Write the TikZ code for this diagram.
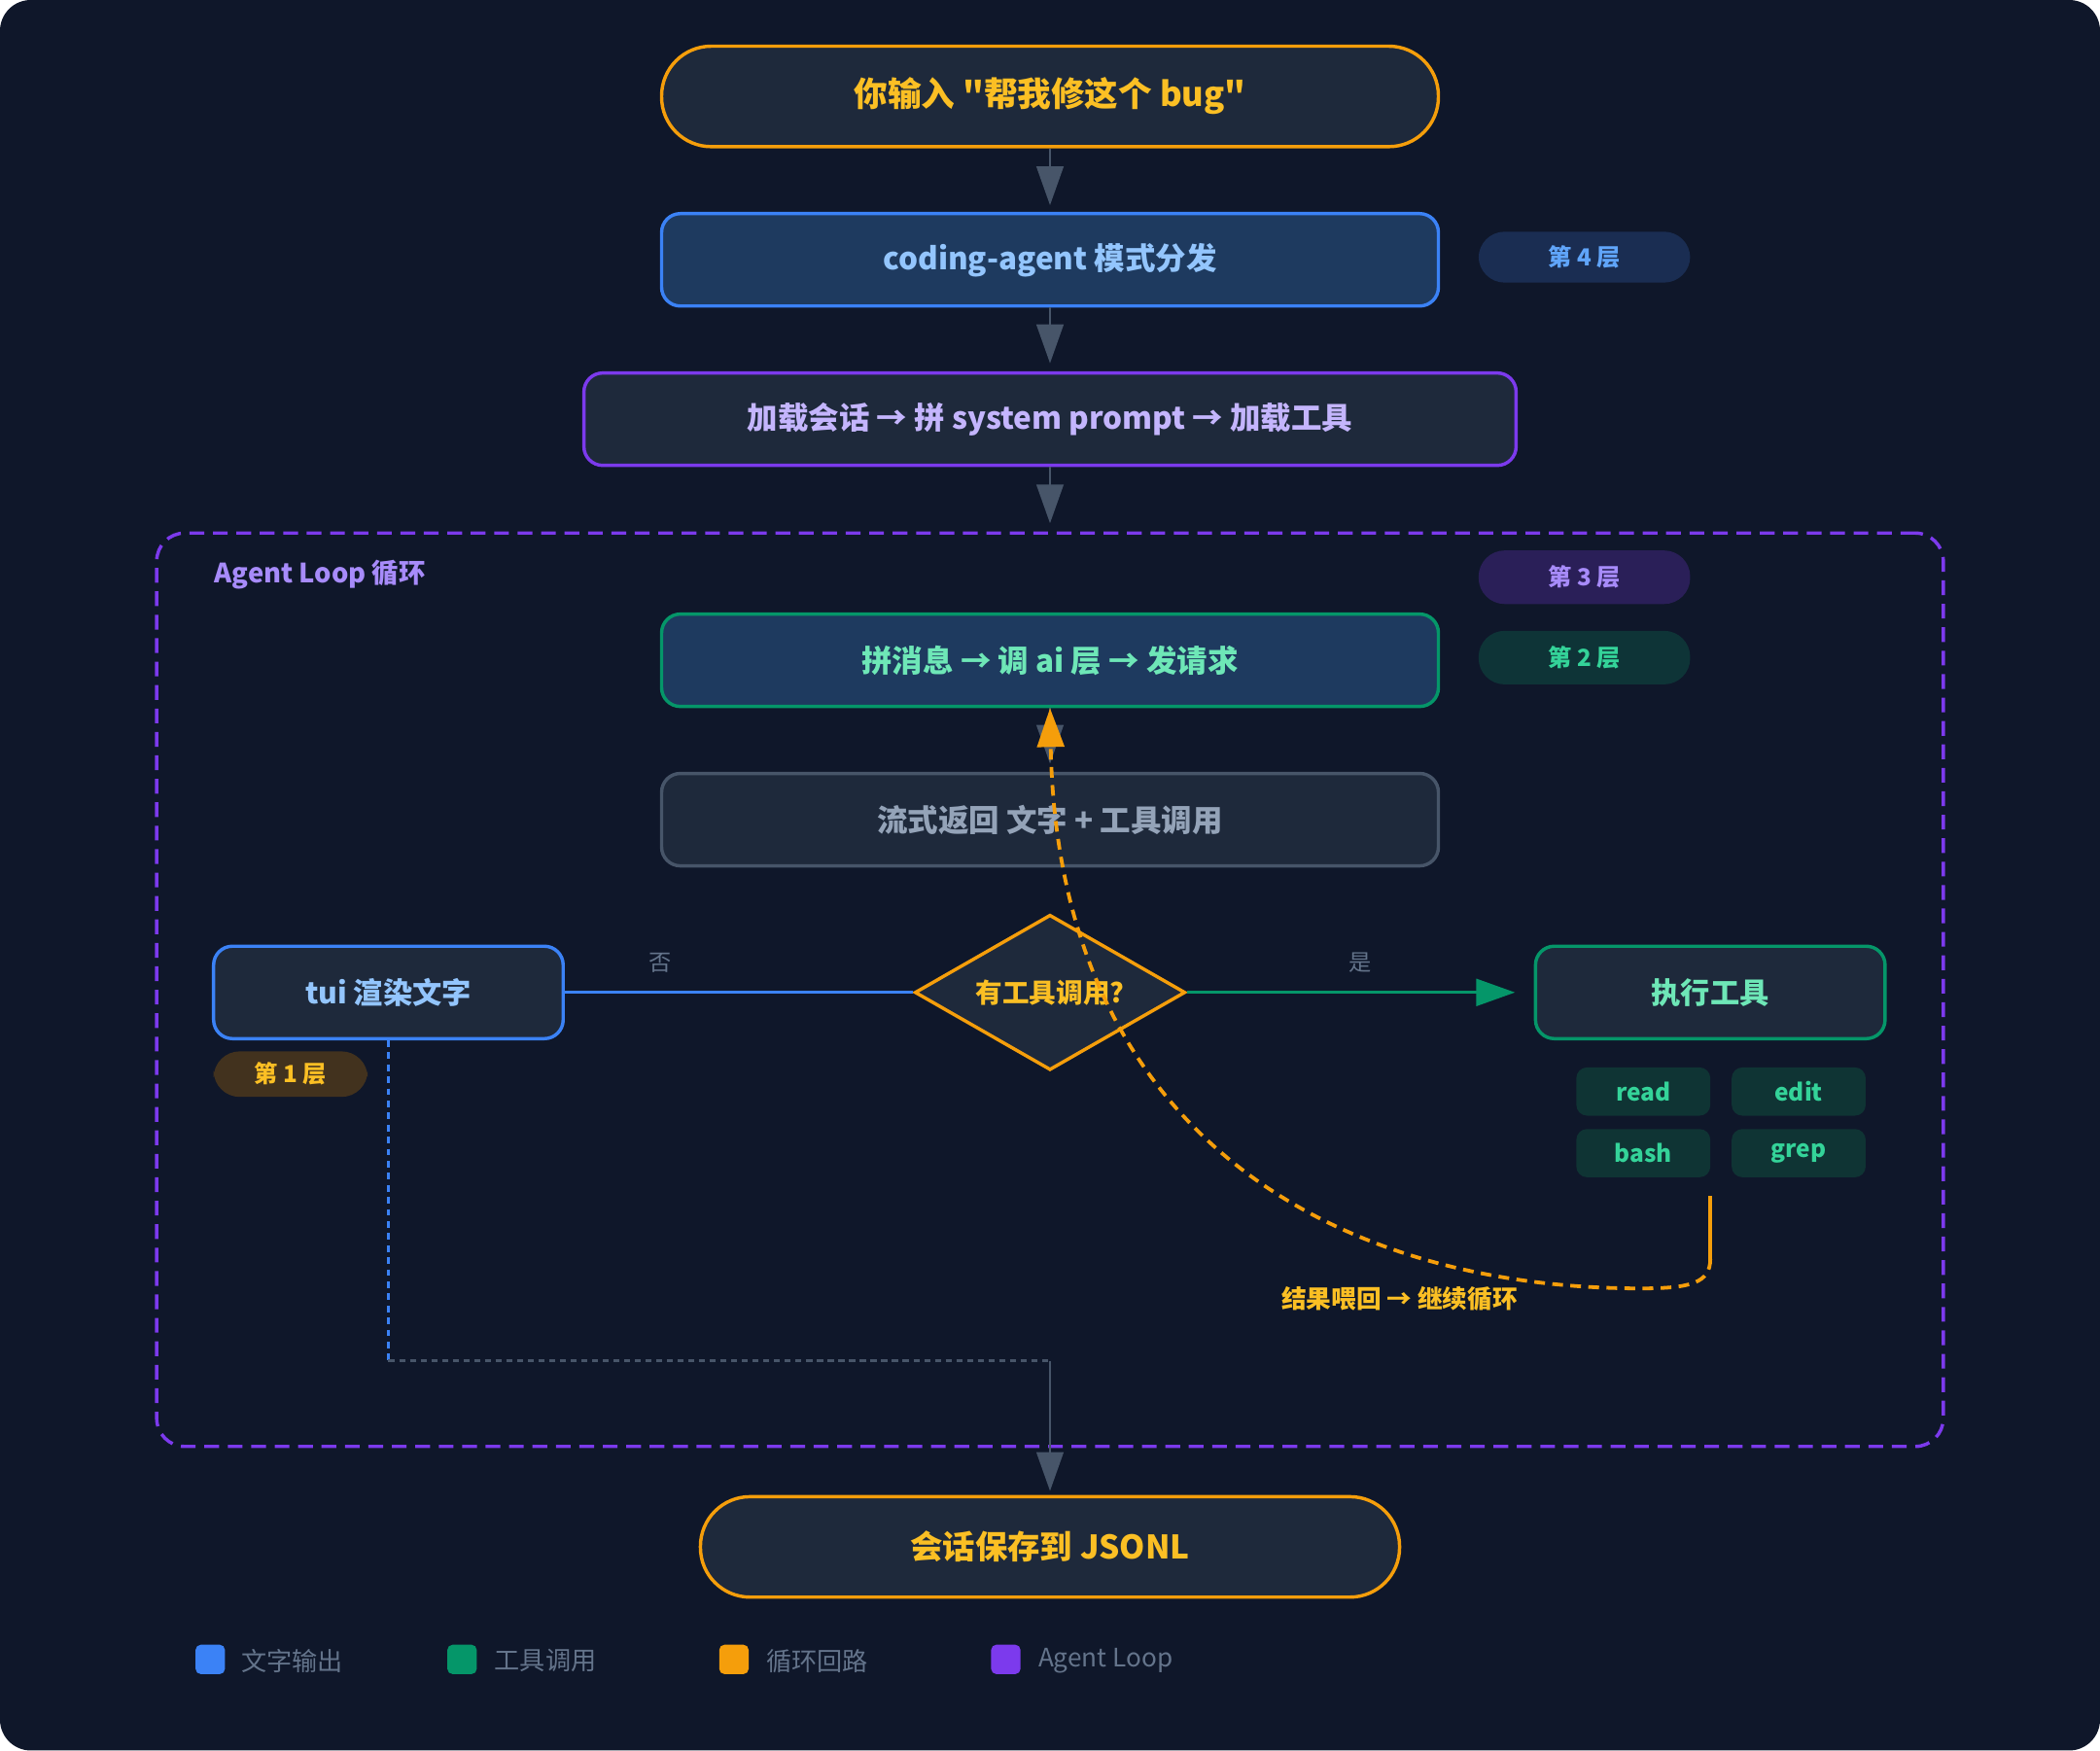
\documentclass[tikz,border=0pt]{standalone}
\usepackage{fontspec}
\setmainfont{Noto Sans CJK SC}[Ligatures=TeXOff]
\usetikzlibrary{shapes.geometric,arrows.meta}

\definecolor{bg}{HTML}{0F172A}
\definecolor{card}{HTML}{1E293B}
\definecolor{navy}{HTML}{1E3A5F}
\definecolor{corange}{HTML}{F59E0B}
\definecolor{amber}{HTML}{FBBF24}
\definecolor{cblue}{HTML}{3B82F6}
\definecolor{skyblue}{HTML}{93C5FD}
\definecolor{cviolet}{HTML}{7C3AED}
\definecolor{lavender}{HTML}{C4B5FD}
\definecolor{lilac}{HTML}{A78BFA}
\definecolor{cgreen}{HTML}{059669}
\definecolor{mint}{HTML}{34D399}
\definecolor{mintlight}{HTML}{6EE7B7}
\definecolor{slate}{HTML}{475569}
\definecolor{slatetext}{HTML}{94A3B8}
\definecolor{muted}{HTML}{64748B}
\definecolor{badgeblue}{HTML}{1A2D52}
\definecolor{badgebluetext}{HTML}{60A5FA}
\definecolor{badgeviolet}{HTML}{2A1F58}
\definecolor{badgegreen}{HTML}{0E3437}
\definecolor{badgebrown}{HTML}{42321E}
\definecolor{chipfill}{HTML}{0F3434}

\begin{document}
\begin{tikzpicture}[x=0.2mm,y=-0.2mm,>={Triangle[length=5.8mm,width=4mm]},
  box/.style={draw,rounded corners=2.8mm,line width=0.5mm,fill=card,
    minimum width=116mm,minimum height=13.8mm,font=\bfseries\fontsize{12.5}{15}\selectfont},
  mixed/.style={font=\bfseries\fontsize{13}{15}\selectfont},
  pill/.style={box,rounded corners=7.4mm,draw=corange,text=amber,
    minimum height=15mm,font=\bfseries\fontsize{13.8}{16}\selectfont},
  badge/.style={rounded corners=3.9mm,minimum width=31.6mm,minimum height=8mm,
    font=\bfseries\fontsize{10}{12}\selectfont},
  chip/.style={fill=chipfill,text=mint,rounded corners=1.6mm,minimum width=20mm,
    minimum height=7.2mm,font=\bfseries\fontsize{10.1}{12}\selectfont},
  flow/.style={->,draw=slate,line width=0.4mm},
  legendkey/.style={fill=#1,rounded corners=0.8mm,minimum size=4.4mm,inner sep=0pt},
  legendtext/.style={anchor=west,inner sep=0pt,text=muted,font=\fontsize{10.8}{13}\selectfont},
  edgelabel/.style={text=muted,font=\fontsize{9.6}{12}\selectfont}]

  % background
  \fill[white] (0,0) rectangle (1568,1307);
  \fill[bg,rounded corners=4.6mm] (0,0) rectangle (1568,1307);

  % agent loop frame
  \node[draw=cviolet,line width=0.5mm,dash pattern=on 2.2mm off 1.3mm,rounded corners=4.2mm,
    minimum width=266.8mm,minimum height=136.4mm] (loop) at (784,739) {};
  \node[anchor=west,inner sep=0pt,text=lilac,font=\bfseries\fontsize{11.3}{13}\selectfont] (looplabel) at (160,429) {Agent Loop 循环};

  % main flow
  \node[pill,minimum width=116mm,font=\bfseries\fontsize{14.3}{16}\selectfont] (ask) at (784,72) {你输入 "帮我修这个 bug"};
  \node[box,mixed,draw=cblue,fill=navy,text=skyblue] (mode) at (784,194) {coding-agent 模式分发};
  \node[box,mixed,draw=cviolet,text=lavender,minimum width=139.2mm] (prep) at (784,313) {加载会话 → 拼 system prompt → 加载工具};
  \node[box,mixed,draw=cgreen,fill=navy,text=mintlight] (llm) at (784,493) {拼消息 → 调 ai 层 → 发请求};
  \node[box,mixed,draw=slate,text=slatetext] (stream) at (784,612) {流式返回 文字 + 工具调用};
  \node[diamond,draw=corange,fill=card,line width=0.5mm,text=amber,aspect=1.74,inner sep=0pt,
    minimum width=40.4mm,minimum height=23.2mm,font=\bfseries\fontsize{11.4}{13}\selectfont] (check) at (784,741) {有工具调用?};
  \node[box,draw=cblue,text=skyblue,minimum width=52.2mm] (tui) at (290,741) {tui 渲染文字};
  \node[box,draw=cgreen,text=mintlight,minimum width=52.2mm] (exec) at (1277,741) {执行工具};
  \node[pill,minimum width=104.4mm] (save) at (784,1155) {会话保存到 JSONL};

  % layer badges
  \node[badge,fill=badgeblue,text=badgebluetext,minimum height=7.6mm] (l4) at (1183,192) {第 4 层};
  \node[badge,fill=badgeviolet,text=lilac] (l3) at (1183,431) {第 3 层};
  \node[badge,fill=badgegreen,text=mint] (l2) at (1183,491) {第 2 层};
  \node[badge,fill=badgebrown,text=amber,minimum width=23mm,minimum height=6.8mm] (l1) at (217,802) {第 1 层};

  % tools
  \node[chip] (read) at (1227,815) {read};
  \node[chip] (edit) at (1343,815) {edit};
  \node[chip] (bash) at (1227,861) {bash};
  \node[chip] (grep) at (1343,861) {grep};

  \node[text=amber,font=\bfseries\fontsize{10.6}{13}\selectfont] (feedback) at (1045,970) {结果喂回 → 继续循环};

  % connectors
  \draw[flow,shorten >=1mm] (ask) -- (mode);
  \draw[flow,shorten >=1.2mm] (mode) -- (prep);
  \draw[flow,shorten >=1.2mm] (prep) -- (loop);
  \draw[flow,shorten >=1.2mm] (llm) -- (stream);
  \draw[cblue,line width=0.5mm] (tui) -- (check) node[edgelabel,pos=0.275,yshift=4.4mm] {否};
  \draw[->,cgreen,line width=0.5mm,shorten >=2.8mm] (check) -- (exec) node[edgelabel,midway,yshift=4.4mm] {是};

  \coordinate (bend) at (290,1016);
  \coordinate (join) at (784,1016);
  \draw[cblue,line width=0.3mm,dash pattern=on 1mm off 0.8mm] (tui) -- (bend);
  \draw[slate,line width=0.4mm,dash pattern=on 0.9mm off 0.7mm] (bend) -- (join);
  \draw[flow,shorten >=0.6mm] (join) -- (save);

  % feedback loop
  \coordinate (feed) at (1277,893);
  \draw[corange,line width=0.55mm] (feed) -- ++(0,47) coordinate (turn);
  \draw[->,corange,line width=0.55mm,dash pattern=on 1.6mm off 1.1mm]
    (turn) .. controls (1277,958) and (1262,962) .. (1225,962)
    .. controls (1000,962) and (790,850) .. (llm.south);

  % legend
  \node[legendkey=cblue] (k1) at (157,1239) {};
  \node[legendtext] (t1) at (180,1240) {文字输出};
  \node[legendkey=cgreen] (k2) at (345,1239) {};
  \node[legendtext] (t2) at (369,1240) {工具调用};
  \node[legendkey=corange] (k3) at (548,1239) {};
  \node[legendtext] (t3) at (572,1240) {循环回路};
  \node[legendkey=cviolet] (k4) at (751,1239) {};
  \node[legendtext] (t4) at (775,1240) {Agent Loop};
\end{tikzpicture}
\end{document}
